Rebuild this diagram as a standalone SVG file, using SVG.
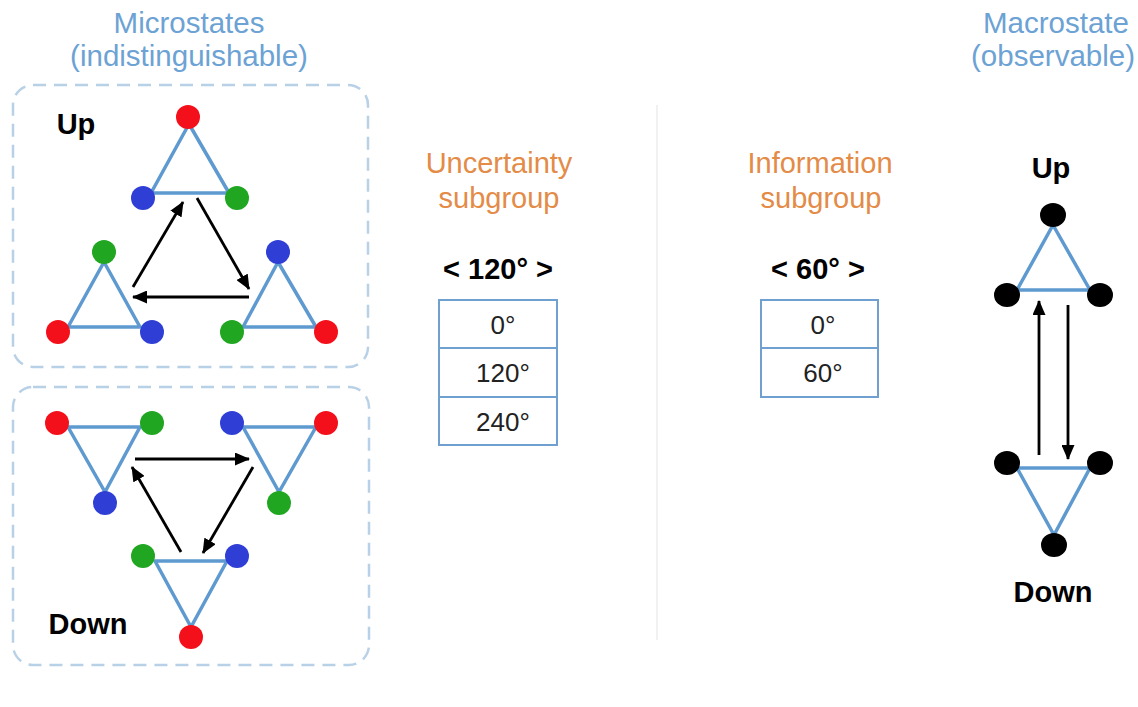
<svg xmlns="http://www.w3.org/2000/svg" width="1138" height="707" viewBox="0 0 1138 707">
<style>
.t{font-family:"Liberation Sans",Arial,sans-serif;text-anchor:middle}
.title{font-size:29.5px;fill:#6ca2d4}
.org{font-size:29px;fill:#e38b47}
.lbl{font-size:29px;font-weight:bold;fill:#000}
.cell{font-size:26px;fill:#222}
.tri{fill:none;stroke:#5e9ad0;stroke-width:3.5;stroke-linejoin:round}
.box{fill:none;stroke:#b9d1e6;stroke-width:2.5;stroke-dasharray:13 8}
.tab{fill:#fff;stroke:#6fa0d0;stroke-width:2}
.arr{stroke:#000;stroke-width:2.8;fill:none;marker-end:url(#ah)}
.r{fill:#f4101a}.b{fill:#2f3fd6}.g{fill:#21a622}.k{fill:#000}
</style>
<defs>
<marker id="ah" markerUnits="userSpaceOnUse" markerWidth="15" markerHeight="13" refX="14" refY="6.5" orient="auto">
<path d="M0,0 L15,6.5 L0,13 z" fill="#000"/>
</marker>
</defs>
<rect width="1138" height="707" fill="#fff"/>

<g id="titles">
<text class="t title" x="189" y="33">Microstates</text>
<text class="t title" x="189" y="66">(indistinguishable)</text>
<text class="t title" x="1056" y="33">Macrostate</text>
<text class="t title" x="1053" y="66">(observable)</text>
</g>

<line x1="657" y1="105" x2="657" y2="640" stroke="#ececec" stroke-width="1.5"/>

<g id="up-box">
<rect class="box" x="13" y="85" width="355" height="282" rx="20"/>
<text class="t lbl" x="76" y="134">Up</text>
</g>
<g id="down-box">
<rect class="box" x="13" y="387" width="356" height="278" rx="20"/>
<text class="t lbl" x="88" y="634">Down</text>
</g>

<g id="up-top">
<polygon class="tri" points="189,124 151,193 229,193"/>
<circle class="r" cx="188" cy="117" r="12"/><circle class="b" cx="143" cy="198" r="12"/><circle class="g" cx="237" cy="198" r="12"/>
</g>
<g id="up-left">
<polygon class="tri" points="104,262 68,327 140,327"/>
<circle class="g" cx="104" cy="252" r="12"/><circle class="r" cx="58" cy="332" r="12"/><circle class="b" cx="152" cy="332" r="12"/>
</g>
<g id="up-right">
<polygon class="tri" points="278,262 243,327 316,327"/>
<circle class="b" cx="278" cy="252" r="12"/><circle class="g" cx="232" cy="332" r="12"/><circle class="r" cx="326" cy="332" r="12"/>
</g>

<g id="down-left">
<polygon class="tri" points="68,427 140,427 105,492"/>
<circle class="r" cx="57" cy="423" r="12"/><circle class="g" cx="152" cy="423" r="12"/><circle class="b" cx="105" cy="503" r="12"/>
</g>
<g id="down-right">
<polygon class="tri" points="243,427 316,427 279,492"/>
<circle class="b" cx="232" cy="423" r="12"/><circle class="r" cx="326" cy="423" r="12"/><circle class="g" cx="279" cy="503" r="12"/>
</g>
<g id="down-bottom">
<polygon class="tri" points="155,561 227,561 191,627"/>
<circle class="g" cx="143" cy="556" r="12"/><circle class="b" cx="237" cy="556" r="12"/><circle class="r" cx="191" cy="637" r="12"/>
</g>

<g id="uncertainty">
<text class="t org" x="499" y="173">Uncertainty</text>
<text class="t org" x="499" y="208">subgroup</text>
<text class="t lbl" x="498" y="279">&lt; 120° &gt;</text>
<rect class="tab" x="439" y="300" width="118" height="48"/>
<rect class="tab" x="439" y="348" width="118" height="49"/>
<rect class="tab" x="439" y="397" width="118" height="48"/>
<text class="t cell" x="503" y="334">0°</text>
<text class="t cell" x="503" y="382">120°</text>
<text class="t cell" x="503" y="431">240°</text>
</g>

<g id="information">
<text class="t org" x="820" y="173">Information</text>
<text class="t org" x="821" y="208">subgroup</text>
<text class="t lbl" x="818" y="279">&lt; 60° &gt;</text>
<rect class="tab" x="761" y="300" width="117" height="48"/>
<rect class="tab" x="761" y="348" width="117" height="49"/>
<text class="t cell" x="823" y="334">0°</text>
<text class="t cell" x="823" y="382">60°</text>
</g>

<g id="macro-up">
<text class="t lbl" x="1051" y="178">Up</text>
<polygon class="tri" points="1053,225 1017,290 1090,290"/>
<ellipse class="k" cx="1053" cy="215" rx="13" ry="12"/>
<ellipse class="k" cx="1007" cy="295" rx="13" ry="12"/>
<ellipse class="k" cx="1100" cy="295" rx="13" ry="12"/>
</g>
<g id="macro-down">
<polygon class="tri" points="1017,468 1090,468 1054,535"/>
<ellipse class="k" cx="1007" cy="463" rx="13" ry="12"/>
<ellipse class="k" cx="1100" cy="463" rx="13" ry="12"/>
<ellipse class="k" cx="1054" cy="545" rx="13" ry="12"/>
<text class="t lbl" x="1053" y="602">Down</text>
</g>

<g id="connectors">
<line class="arr" x1="133" y1="287" x2="183" y2="202"/>
<line class="arr" x1="197" y1="198" x2="249" y2="289"/>
<line class="arr" x1="249" y1="297" x2="133" y2="297"/>
<line class="arr" x1="135" y1="459" x2="249" y2="459"/>
<line class="arr" x1="253" y1="467" x2="203" y2="553"/>
<line class="arr" x1="181" y1="552" x2="132" y2="467"/>
<line class="arr" x1="1039" y1="455" x2="1039" y2="301"/>
<line class="arr" x1="1068" y1="305" x2="1068" y2="459"/>
</g>
</svg>
